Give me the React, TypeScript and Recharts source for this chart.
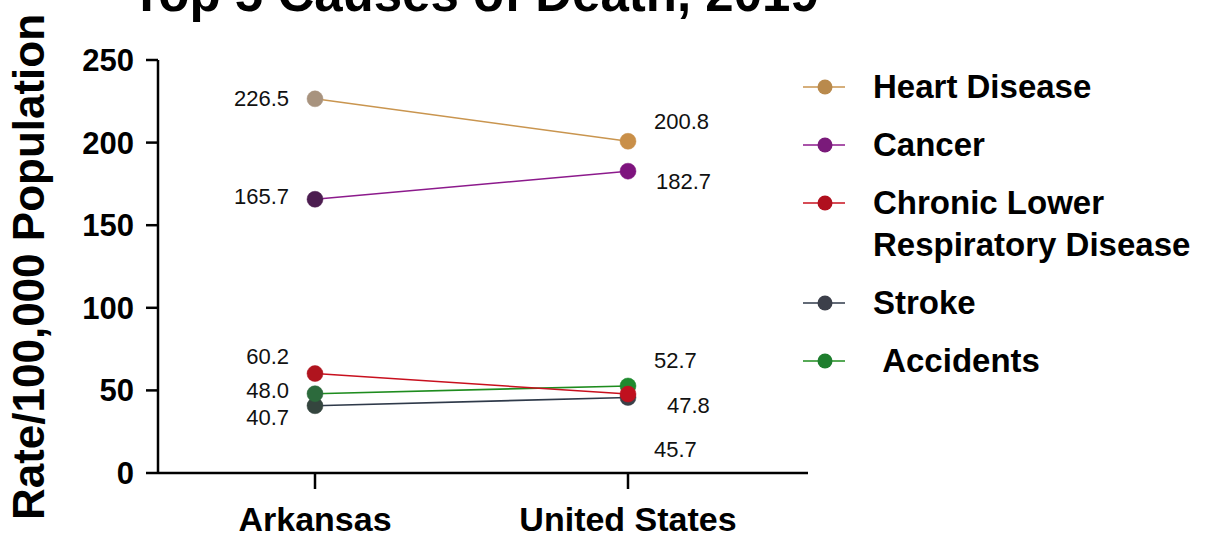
import React from 'react';
import { LineChart, Line, XAxis, YAxis, Legend, LabelList } from 'recharts';

// ---- data ----
const categories = ['Arkansas', 'United States'];
const heartDisease = [226.5, 200.8];
const cancer = [165.7, 182.7];
const chronicLowerRespiratory = [60.2, 47.8];
const strokeRate = [40.7, 45.7];
const accidents = [48.0, 52.7];
const yTicks = [0, 50, 100, 150, 200, 250];
const chartTitle = 'Top 5 Causes of Death, 2019';
const yAxisTitle = 'Rate/100,000 Population';

const seriesValues: Record<string, number[]> = {
  heart: heartDisease,
  cancer: cancer,
  clrd: chronicLowerRespiratory,
  stroke: strokeRate,
  accidents: accidents,
};

const data = categories.map((name, i) => ({
  name,
  heart: heartDisease[i],
  cancer: cancer[i],
  clrd: chronicLowerRespiratory[i],
  stroke: strokeRate[i],
  accidents: accidents[i],
}));

// ---- styles ----
const FONT = '"Liberation Sans", Arial, Helvetica, sans-serif';

type SeriesStyle = {
  key: string;
  name: string;
  line: string;
  dots: string[];
  legendDot: string;
  labelOffsets: [number, number][];
};

const seriesStyles: SeriesStyle[] = [
  { key: 'heart', name: 'Heart Disease', line: '#c9954f', dots: ['#a8937e', '#c98f48'], legendDot: '#b98a4c', labelOffsets: [[-26, 0], [26, -20]] },
  { key: 'cancer', name: 'Cancer', line: '#8c1a8c', dots: ['#4c1d50', '#7e137e'], legendDot: '#7a1a7a', labelOffsets: [[-26, -3], [28, 10]] },
  { key: 'clrd', name: 'Chronic Lower Respiratory Disease', line: '#c8101e', dots: ['#b0141e', '#c0101e'], legendDot: '#b0101e', labelOffsets: [[-26, -17], [39, 11]] },
  { key: 'stroke', name: 'Stroke', line: '#2f3a4a', dots: ['#34453e', '#3b4048'], legendDot: '#3c3f4a', labelOffsets: [[-26, 12], [26, 52]] },
  { key: 'accidents', name: ' Accidents', line: '#1e8c1e', dots: ['#2c6a3c', '#1f8a2e'], legendDot: '#1e7e2e', labelOffsets: [[-26, -3], [26, -25]] },
];

// draw order (later on top)
const drawOrder = ['heart', 'cancer', 'stroke', 'accidents', 'clrd'];

const styleFor = (key: string) => seriesStyles.find((s) => s.key === key)!;

const makeDot = (st: SeriesStyle) => (props: any) => {
  const { cx, cy, index } = props;
  if (cx == null || cy == null) return <g key={`d-${st.key}-${index}`} />;
  const fill = st.dots[index] ?? st.dots[0];
  return <circle key={`d-${st.key}-${index}`} cx={cx} cy={cy} r={8} fill={fill} stroke={fill} strokeWidth={0.5} />;
};

const makeLabel = (st: SeriesStyle) => (props: any) => {
  const { x, y, value } = props;
  let index = props.index;
  if (index == null) index = seriesValues[st.key].indexOf(Number(value));
  if (x == null || y == null) return null;
  const [dx, dy] = st.labelOffsets[index] ?? [0, 0];
  return (
    <text
      key={`l-${st.key}-${index}`}
      x={x + dx}
      y={y + dy}
      textAnchor={index === 0 ? 'end' : 'start'}
      dominantBaseline="central"
      fontFamily={FONT}
      fontSize={22}
      fill="#111"
    >
      {Number(value).toFixed(1)}
    </text>
  );
};

const LegendContent = () => (
  <div style={{ fontFamily: FONT, fontWeight: 700, fontSize: 33, color: '#000', lineHeight: '42px', width: 399 }}>
    {seriesStyles.map((s) => (
      <div key={s.key} style={{ display: 'flex', alignItems: 'flex-start', marginBottom: 16 }}>
        <svg width={70} height={42} style={{ flex: '0 0 70px' }}>
          <line x1={0} y1={21} x2={42} y2={21} stroke={s.line} strokeWidth={1.5} />
          <circle cx={22} cy={21} r={7.5} fill={s.legendDot} />
        </svg>
        <div style={{ width: 329, whiteSpace: 'pre-wrap' }}>{s.name}</div>
      </div>
    ))}
  </div>
);

const AxisTitle = () => (
  <text
    x={44}
    y={267}
    transform="rotate(-90 44 267)"
    textAnchor="middle"
    fontFamily={FONT}
    fontWeight={700}
    fontSize={44}
    fill="#000"
  >
    {yAxisTitle}
  </text>
);

export default function App() {
  return (
    <div style={{ position: 'absolute', left: 0, top: 0, width: 1207, height: 542, background: '#fff' }}>
      <LineChart
        width={1207}
        height={542}
        data={data}
        margin={{ top: 60, right: 0, bottom: 0, left: 88 }}
      >
        <XAxis
          dataKey="name"
          padding={{ left: 157, right: 180 }}
          height={69}
          tickSize={16}
          tickMargin={18}
          axisLine={{ stroke: '#000', strokeWidth: 2.5 }}
          tickLine={{ stroke: '#000', strokeWidth: 2.5 }}
          tick={{ fill: '#000', fontFamily: FONT, fontWeight: 700, fontSize: 34 }}
        />
        <YAxis
          width={70}
          domain={[0, 250]}
          ticks={yTicks}
          interval={0}
          tickSize={12}
          tickMargin={12}
          axisLine={{ stroke: '#000', strokeWidth: 2.5 }}
          tickLine={{ stroke: '#000', strokeWidth: 2.5 }}
          tick={{ fill: '#000', fontFamily: FONT, fontWeight: 700, fontSize: 31 }}
          label={{ content: () => <AxisTitle /> }}
        />
        <Legend
          layout="vertical"
          verticalAlign="top"
          align="right"
          wrapperStyle={{ left: 803, top: 66, width: 399, right: 'auto' }}
          content={() => <LegendContent />}
        />
        {drawOrder.map((key) => {
          const st = styleFor(key);
          return (
            <Line
              key={key}
              dataKey={key}
              name={st.name}
              stroke={st.line}
              strokeWidth={1.6}
              dot={makeDot(st)}
              activeDot={false}
              isAnimationActive={false}
            >
              <LabelList dataKey={key} content={makeLabel(st)} />
            </Line>
          );
        })}
      </LineChart>
      <svg width={1207} height={60} style={{ position: 'absolute', left: 0, top: 0, pointerEvents: 'none' }}>
        <text x={131} y={11} fontFamily={FONT} fontWeight={700} fontSize={51} fill="#000">
          {chartTitle}
        </text>
      </svg>
    </div>
  );
}
